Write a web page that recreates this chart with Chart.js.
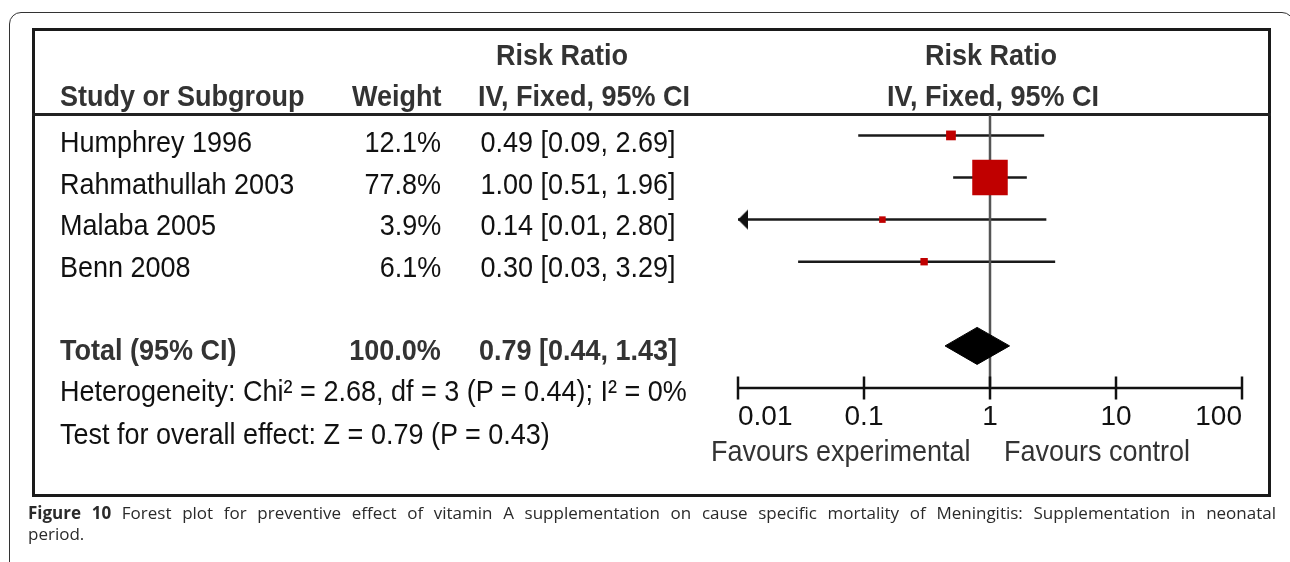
<!DOCTYPE html>
<html>
<head>
<meta charset="utf-8">
<script src="https://cdn.jsdelivr.net/npm/chart.js@4.4.1/dist/chart.umd.min.js"></script>
<style>
html, body { margin: 0; padding: 0; background: #fff; }
body { width: 1290px; height: 562px; position: relative; overflow: hidden; font-family: "Liberation Sans", Arial, sans-serif; }
#outer { position: absolute; left: 9px; top: 12px; width: 1285px; height: 640px; border: 1.5px solid #333; border-radius: 12px; box-sizing: border-box; }
#inner { position: absolute; left: 32px; top: 28px; width: 1239px; height: 469px; border: 3px solid #1a1a1a; box-sizing: border-box; }
#rule { position: absolute; left: 32px; top: 113px; width: 1239px; height: 3px; background: #222; }
#c { position: absolute; left: 0; top: 0; }
.t { position: absolute; white-space: nowrap; font-size: 30px; line-height: 34px; color: #111; }
.b { font-weight: bold; color: #333; }
.g { color: #333; }
.probe { display: inline-block; width: 0; height: 0; vertical-align: baseline; }
.cap { position: absolute; left: 28px; width: 1248px; font-family: "Open Sans", sans-serif; font-size: 17px; line-height: 21px; color: #2a2a2a; }
#cap1 { top: 502px; text-align: justify; text-align-last: justify; }
#cap2 { top: 523px; }
</style>
</head>
<body>
<div id="outer"></div>
<div id="inner"></div>
<div id="rule"></div>
<canvas id="c" width="1290" height="562"></canvas>
<div class="cap" id="cap1"><b>Figure 10</b> Forest plot for preventive effect of vitamin A supplementation on cause specific mortality of Meningitis: Supplementation in neonatal</div>
<div class="cap" id="cap2">period.</div>

<script>
// study data
const studies = ['Humphrey 1996', 'Rahmathullah 2003', 'Malaba 2005', 'Benn 2008'];
const weights = [12.1, 77.8, 3.9, 6.1];
const riskRatio = [0.49, 1.00, 0.14, 0.30];
const ciLow = [0.09, 0.51, 0.01, 0.03];
const ciHigh = [2.69, 1.96, 2.80, 3.29];

// pooled result
const totalLabel = 'Total (95% CI)';
const totalWeight = 100.0;
const totalRR = 0.79;
const totalLow = 0.44;
const totalHigh = 1.43;
const heterogeneity = 'Heterogeneity: Chi\u00b2 = 2.68, df = 3 (P = 0.44); I\u00b2 = 0%';
const overallTest = 'Test for overall effect: Z = 0.79 (P = 0.43)';

// axis
const tickValues = [0.01, 0.1, 1, 10, 100];
const tickLabels = ['0.01', '0.1', '1', '10', '100'];
const favourLeft = 'Favours experimental';
const favourRight = 'Favours control';

const xMin = tickValues[0];
const xMax = tickValues[tickValues.length - 1];
const totalRow = studies.length + 1;
const axisRow = studies.length + 2;

const fmt = v => v.toFixed(2);
const ciText = (rr, lo, hi) => fmt(rr) + ' [' + fmt(lo) + ', ' + fmt(hi) + ']';

// html text, positioned by baseline
function put(txt, x, base, align, cls) {
    const el = document.createElement('div');
    el.className = 't ' + (cls || '');
    el.textContent = txt;
    const probe = document.createElement('span');
    probe.className = 'probe';
    el.appendChild(probe);
    document.body.appendChild(el);
    el.style.top = (base - probe.offsetTop) + 'px';
    if (align === 'left') {
        el.style.left = x + 'px';
        el.style.transformOrigin = '0 0';
        el.style.transform = 'scaleX(0.9)';
    } else if (align === 'right') {
        el.style.right = (1290 - x) + 'px';
        el.style.transformOrigin = '100% 0';
        el.style.transform = 'scaleX(0.9)';
    } else {
        el.style.left = x + 'px';
        el.style.transform = 'translateX(-50%) scaleX(0.9)';
    }
}

// headers
put('Risk Ratio', 562, 65, 'center', 'b');
put('Risk Ratio', 991, 65, 'center', 'b');
put('Study or Subgroup', 60, 106, 'left', 'b');
put('Weight', 441, 106, 'right', 'b');
put('IV, Fixed, 95% CI', 584, 106, 'center', 'b');
put('IV, Fixed, 95% CI', 993, 106, 'center', 'b');

// rows
const rowBase = i => 152 + 41.5 * i;
studies.forEach((s, i) => {
    put(s, 60, rowBase(i), 'left');
    put(weights[i].toFixed(1) + '%', 441, rowBase(i), 'right');
    put(ciText(riskRatio[i], ciLow[i], ciHigh[i]), 578, rowBase(i), 'center');
});
put(totalLabel, 60, rowBase(totalRow), 'left', 'b');
put(totalWeight.toFixed(1) + '%', 441, rowBase(totalRow), 'right', 'b');
put(ciText(totalRR, totalLow, totalHigh), 578, rowBase(totalRow), 'center', 'b');
put(heterogeneity, 60, 401, 'left');
put(overallTest, 60, 444, 'left');
put(favourLeft, 711, 461, 'left', 'g');
put(favourRight, 1004, 461, 'left', 'g');

// arrow head for intervals cut at the axis limit
const arrow = document.createElement('canvas');
arrow.width = 24;
arrow.height = 22;
(function () {
    const a = arrow.getContext('2d');
    a.fillStyle = '#111';
    a.beginPath();
    a.moveTo(12, 11);
    a.lineTo(22, 1);
    a.lineTo(22, 21);
    a.closePath();
    a.fill();
})();

const squareSide = w => 5 + 0.392 * w;
const diamondHalf = 0.44;

const datasets = [];

datasets.push({
    label: 'studies',
    data: studies.map((s, i) => ({ x: riskRatio[i], y: i })),
    pointStyle: 'rect',
    pointRadius: ctx => squareSide(weights[ctx.dataIndex]) / Math.SQRT2,
    backgroundColor: '#c00000',
    borderWidth: 0,
    showLine: false,
    order: 0
});

datasets.push({
    label: 'total',
    data: [
        { x: totalLow, y: totalRow },
        { x: totalRR, y: totalRow - diamondHalf },
        { x: totalHigh, y: totalRow },
        { x: totalRR, y: totalRow + diamondHalf },
        { x: totalLow, y: totalRow }
    ],
    showLine: true,
    fill: 'shape',
    backgroundColor: '#000',
    borderColor: '#000',
    borderWidth: 1,
    pointRadius: 0,
    order: 2
});

datasets.push({
    label: 'no effect',
    data: [{ x: 1, y: -0.485 }, { x: 1, y: axisRow }],
    showLine: true,
    borderColor: '#555',
    borderWidth: 2.5,
    pointRadius: 0,
    order: 3
});

studies.forEach((s, i) => {
    const cut = ciLow[i] <= xMin;
    datasets.push({
        label: s + ' CI',
        data: [{ x: Math.max(ciLow[i], xMin), y: i }, { x: ciHigh[i], y: i }],
        showLine: true,
        borderColor: '#1a1a1a',
        borderWidth: 2.5,
        pointRadius: [cut ? 1 : 0, 0],
        pointStyle: [cut ? arrow : 'circle', 'circle'],
        order: 4
    });
});

datasets.push({
    label: 'axis',
    data: [{ x: xMin, y: axisRow }, { x: xMax, y: axisRow }],
    showLine: true,
    borderColor: '#111',
    borderWidth: 2.5,
    pointRadius: 0,
    order: 4
});

datasets.push({
    label: 'ticks',
    data: tickValues.map(v => ({ x: v, y: axisRow })),
    showLine: false,
    pointStyle: 'line',
    rotation: 90,
    pointRadius: 11.5,
    borderColor: '#111',
    borderWidth: 2.5,
    order: 1
});

datasets.forEach(d => { d.clip = false; });

new Chart(document.getElementById('c'), {
    type: 'scatter',
    data: { datasets: datasets },
    options: {
        responsive: false,
        animation: false,
        events: [],
        layout: { padding: { left: 738, right: 48, top: 115, bottom: 114 } },
        plugins: { legend: { display: false }, tooltip: { enabled: false } },
        scales: {
            x: {
                type: 'logarithmic',
                position: 'bottom',
                min: xMin,
                max: xMax,
                afterBuildTicks: scale => {
                    scale.ticks = tickValues.map(v => ({ value: v }));
                },
                afterFit: scale => { scale.height = 60; },
                ticks: {
                    callback: (v, i) => tickLabels[i],
                    autoSkip: false,
                    maxRotation: 0,
                    align: 'inner',
                    padding: 12,
                    color: '#111',
                    font: { family: 'Liberation Sans', size: 28 }
                },
                grid: { display: false, drawTicks: false },
                border: { display: false }
            },
            y: {
                type: 'linear',
                min: -0.485,
                max: axisRow,
                reverse: true,
                display: false
            }
        }
    }
});
</script>
</body>
</html>
